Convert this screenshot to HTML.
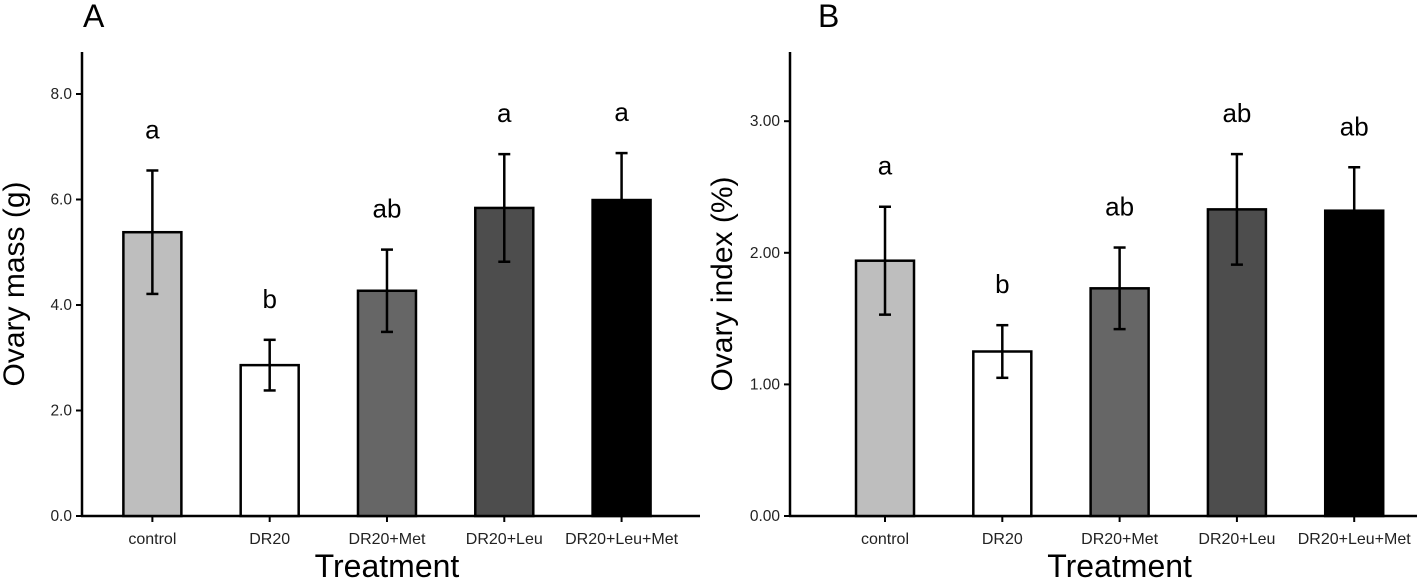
<!DOCTYPE html>
<html><head><meta charset="utf-8"><style>
html,body{margin:0;padding:0;background:#fff}
svg{display:block;font-family:"Liberation Sans",Arial,sans-serif}
</style></head><body>
<svg id="c" width="1417" height="582"></svg>
<script>
const categories=["control","DR20","DR20+Met","DR20+Leu","DR20+Leu+Met"];
const fills=["#bebebe","#ffffff","#666666","#4d4d4d","#000000"];
const massValues=[5.38,2.86,4.27,5.84,5.99];
const massErrors=[1.17,0.48,0.78,1.02,0.89];
const massLetters=["a","b","ab","a","a"];
const massTicks=[0,2,4,6,8];
const massTickLabels=["0.0","2.0","4.0","6.0","8.0"];
const indexValues=[1.94,1.25,1.73,2.33,2.32];
const indexErrors=[0.41,0.20,0.31,0.42,0.33];
const indexLetters=["a","b","ab","ab","ab"];
const indexTicks=[0,1,2,3];
const indexTickLabels=["0.00","1.00","2.00","3.00"];

const NS="http://www.w3.org/2000/svg";
const svg=document.getElementById('c');
function mk(t,a,p){const e=document.createElementNS(NS,t);for(const k in a)e.setAttribute(k,a[k]);(p||svg).appendChild(e);return e;}

function panel(o){
  const g=mk('g',{});
  
  
  const y=v=>o.y0-v*o.scale;
  const x=i=>o.x0+(i+o.off)*117.3;
  const ya=mk('line',{x1:o.x0,y1:52,x2:o.x0,y2:o.y0+1,stroke:'#000','stroke-width':2.5},g);
  
  const xa=mk('line',{x1:o.x0-1,y1:o.y0,x2:o.xEnd,y2:o.y0,stroke:'#000','stroke-width':2.5},g);
  
  o.ticks.forEach((v,i)=>{
    mk('line',{x1:o.x0-6,y1:y(v),x2:o.x0,y2:y(v),stroke:'#000','stroke-width':2},g);
    const t=mk('text',{x:o.x0-10,y:y(v)+5,'text-anchor':'end','font-size':15.5,fill:'#222'},g);
    t.textContent=o.tickLabels[i];
    
  });
  categories.forEach((c,i)=>{
    const cx=x(i),v=o.values[i],e=o.errors[i];
    const b=mk('rect',{x:cx-29,y:y(v),width:58,height:o.y0-y(v),fill:fills[i],stroke:'#000','stroke-width':2.5},g);
    
    
    const eg=mk('g',{stroke:'#000','stroke-width':2.5},g);
    
    mk('line',{x1:cx,y1:y(v+e),x2:cx,y2:y(v-e)},eg);
    mk('line',{x1:cx-6,y1:y(v+e),x2:cx+6,y2:y(v+e)},eg);
    mk('line',{x1:cx-6,y1:y(v-e),x2:cx+6,y2:y(v-e)},eg);
    const l=mk('text',{x:cx,y:y(v+e)-32,'text-anchor':'middle','font-size':26},g);
    l.textContent=o.letters[i];
    
    mk('line',{x1:cx,y1:o.y0,x2:cx,y2:o.y0+6,stroke:'#000','stroke-width':2},g);
    const xt=mk('text',{x:cx,y:o.y0+28,'text-anchor':'middle','font-size':16,fill:'#222'},g);
    xt.textContent=c;
    
  });
  const yt=mk('text',{x:0,y:0,'text-anchor':'middle','font-size':30,transform:`translate(${o.x0-58},${(o.y0+52)/2}) rotate(-90)`},g);
  yt.textContent=o.ytitle;
  const xt=mk('text',{x:x(2),y:577,'text-anchor':'middle','font-size':32},g);
  xt.textContent='Treatment';
  const pl=mk('text',{x:o.labelX,y:27,'font-size':32},g);
  pl.textContent=o.label;
}
panel({name:'panel-a-ovary-mass',x0:82,y0:516,scale:52.75,off:0.6,xEnd:700,labelX:83,values:massValues,errors:massErrors,letters:massLetters,ticks:massTicks,tickLabels:massTickLabels,ytitle:'Ovary mass (g)',label:'A'});
panel({name:'panel-b-ovary-index',x0:790,y0:516,scale:131.6,off:0.81,xEnd:1417,labelX:818,values:indexValues,errors:indexErrors,letters:indexLetters,ticks:indexTicks,tickLabels:indexTickLabels,ytitle:'Ovary index (%)',label:'B'});
</script>
</body></html>
